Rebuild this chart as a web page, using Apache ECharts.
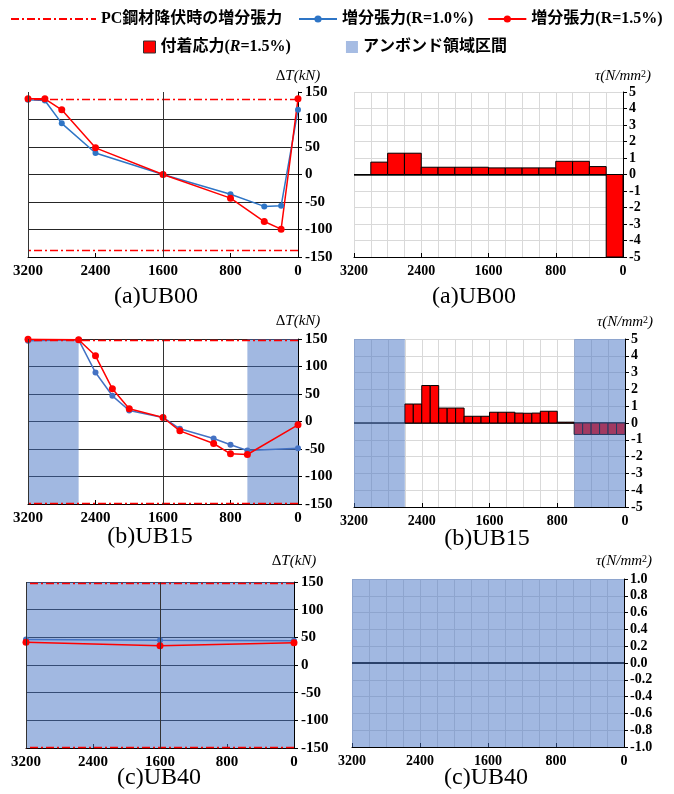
<!DOCTYPE html>
<html>
<head>
<meta charset="utf-8">
<script src="https://cdn.jsdelivr.net/npm/echarts@6/dist/echarts.min.js"></script>
<style>
html, body { margin: 0; padding: 0; background: #fff; }
#main { width: 674px; height: 794px; }
</style>
</head>
<body>
<div id="main"></div>
<script>
var SERIF = "'Liberation Serif','Noto Sans CJK JP',serif";

// gauge positions (mm) and incremental tension dT (kN)
var posUB00 = [3200, 3000, 2800, 2400, 1600, 800, 400, 200, 0];
var dT10UB00 = [136, 134.5, 93, 39, 0, -36, -58, -57, 117.6];
var dT15UB00 = [137.6, 137.6, 117.6, 48.5, 0, -43, -85.5, -99.4, 137.6];

var posUB15 = [3200, 2600, 2400, 2200, 2000, 1600, 1400, 1000, 800, 600, 0];
var dT10UB15 = [146.7, 148.5, 89, 46.7, 20, 7.3, -13.3, -31, -42.4, -52.7, -48.5];
var dT15UB15 = [149.7, 148.5, 119.4, 59.4, 23, 7.3, -17, -40, -58.8, -60, -6];

var posUB40 = [3200, 1600, 0];
var dT10UB40 = [46, 44.6, 44];
var dT15UB40 = [41, 35, 40.4];

// PC鋼材降伏時の増分張力 (kN)
var yieldUB00 = 137;
var yieldUB15 = 148;
var yieldUB40 = 148;

// bond stress: segment start (mm), segment length (mm), tau (N/mm2)
var bondFromUB00 = [3200, 3000, 2800, 2600, 2400, 2200, 2000, 1800, 1600, 1400, 1200, 1000, 800, 600, 400, 200];
var bondStepUB00 = 200;
var bondUB00 = [0, 0.75, 1.29, 1.29, 0.44, 0.44, 0.44, 0.44, 0.40, 0.40, 0.40, 0.40, 0.80, 0.80, 0.48, -5];

var bondFromUB15 = [2600, 2500, 2400, 2300, 2200, 2100, 2000, 1900, 1800, 1700, 1600, 1500, 1400,
                    1300, 1200, 1100, 1000, 900, 800, 700, 600, 500, 400, 300, 200, 100];
var bondStepUB15 = 100;
var bondUB15 = [1.13, 1.13, 2.23, 2.23, 0.89, 0.89, 0.89, 0.40, 0.40, 0.40, 0.64, 0.64, 0.64,
                0.59, 0.58, 0.59, 0.70, 0.70, 0.05, 0.05, -0.68, -0.68, -0.68, -0.68, -0.68, -0.68];

var bondFromUB40 = [3200, 3000, 2800, 2600, 2400, 2200, 2000, 1800, 1600, 1400, 1200, 1000, 800, 600, 400, 200];
var bondStepUB40 = 200;
var bondUB40 = [0, 0, 0, 0, 0, 0, 0, 0, 0, 0, 0, 0, 0, 0, 0, 0];

// アンボンド領域 (mm)
var unbondUB00 = [];
var unbondUB15 = [[3200, 2600], [600, 0]];
var unbondUB40 = [[3200, 0]];

var myChart = echarts.init(document.getElementById('main'));

var grids = [
    {left: 28, top: 92, width: 270, height: 165},
    {left: 354, top: 92, width: 269, height: 165},
    {left: 28, top: 339, width: 270, height: 165},
    {left: 354, top: 339, width: 271, height: 168},
    {left: 26, top: 582, width: 268, height: 166},
    {left: 352, top: 579, width: 272, height: 168}
];
var xAxes = [], yAxes = [], series = [];

function lab(size) {
    return {fontFamily: SERIF, fontWeight: 'bold', fontSize: size, color: '#000'};
}
function plain(v) { return String(v); }

function shade(g, ranges, z) {
    if (!ranges.length) return;
    series.push({
        type: 'line', name: 'アンボンド領域区間', xAxisIndex: g, yAxisIndex: g,
        data: [], symbol: 'none', z: z, silent: true,
        itemStyle: {color: '#a6bce3'},
        markArea: {
            silent: true, z: z,
            itemStyle: {color: 'rgba(68,114,196,0.5)'},
            data: ranges.map(function (r) { return [{xAxis: r[0]}, {xAxis: r[1]}]; })
        }
    });
}

function tensionPanel(g, pos, t10, t15, yieldV, unbond, blue, gap, maxLine) {
    xAxes.push({
        gridIndex: g, type: 'value', inverse: true, min: 0, max: 3200, interval: 800,
        axisLine: {show: true, onZero: false, lineStyle: {color: '#000', width: 1}},
        axisTick: {show: true, inside: true, length: 4, lineStyle: {color: '#000'}},
        axisLabel: Object.assign({margin: 7, formatter: plain}, lab(15)),
        splitLine: {show: false}
    });
    yAxes.push({
        gridIndex: g, type: 'value', position: 'right', min: -150, max: 150, interval: 50,
        name: '{d|Δ}{i|T(kN)}', nameLocation: 'end', nameGap: gap,
        nameTextStyle: {
            align: 'center',
            rich: {
                d: {fontFamily: SERIF, fontSize: 15, color: '#000'},
                i: {fontFamily: SERIF, fontSize: 15, fontStyle: 'italic', color: '#000'}
            }
        },
        axisLine: {show: true, onZero: false, lineStyle: {color: '#000'}},
        axisTick: {show: true, length: 4, lineStyle: {color: '#000'}},
        axisLabel: Object.assign({margin: 7, formatter: plain}, lab(15)),
        splitLine: {show: true, showMinLine: false, showMaxLine: maxLine, lineStyle: {color: '#262626', width: 1}}
    });
    shade(g, unbond, 1);
    series.push({
        type: 'line', name: '増分張力(R=1.0%)', xAxisIndex: g, yAxisIndex: g, z: 3,
        data: pos.map(function (p, i) { return [p, t10[i]]; }),
        symbol: 'circle', symbolSize: 6,
        lineStyle: {color: blue, width: 1.5}, itemStyle: {color: blue}
    });
    series.push({
        type: 'line', name: '増分張力(R=1.5%)', xAxisIndex: g, yAxisIndex: g, z: 3,
        data: pos.map(function (p, i) { return [p, t15[i]]; }),
        symbol: 'circle', symbolSize: 7,
        lineStyle: {color: '#ff0000', width: 1.5}, itemStyle: {color: '#ff0000'}
    });
    var dash = {color: '#ff0000', width: 1.3, type: [8, 3, 2, 3]};
    var frame = {color: '#333', width: 1, type: 'solid'};
    series.push({
        type: 'line', name: 'PC鋼材降伏時の増分張力', xAxisIndex: g, yAxisIndex: g, z: 4,
        data: [], symbol: 'none',
        lineStyle: dash, itemStyle: {color: '#ff0000'},
        markLine: {
            silent: true, symbol: ['none', 'none'], label: {show: false},
            data: [
                {yAxis: yieldV, lineStyle: dash},
                {yAxis: -yieldV, lineStyle: dash},
                {xAxis: 1600, lineStyle: frame},
                {xAxis: 3200, lineStyle: frame}
            ]
        }
    });
}

function renderBond(params, api) {
    var a = api.coord([api.value(0), api.value(2)]);
    var b = api.coord([api.value(1), 0]);
    return {
        type: 'rect',
        shape: {
            x: Math.min(a[0], b[0]), y: Math.min(a[1], b[1]),
            width: Math.abs(b[0] - a[0]), height: Math.abs(b[1] - a[1])
        },
        style: {fill: '#ff0000', stroke: '#000', lineWidth: 1}
    };
}

function bondPanel(g, from, step, tau, ymax, yint, unbond, gap, dec) {
    var grid = {color: '#d9d9d9', width: 1};
    xAxes.push({
        gridIndex: g, type: 'value', inverse: true, min: 0, max: 3200, interval: 800,
        axisLine: {show: true, onZero: false, lineStyle: {color: '#000'}},
        axisTick: {show: true, inside: true, length: 4, lineStyle: {color: '#000'}},
        minorTick: {show: false, splitNumber: 4},
        minorSplitLine: {show: true, lineStyle: grid},
        splitLine: {show: true, lineStyle: grid},
        axisLabel: Object.assign({margin: 7, formatter: plain}, lab(14))
    });
    yAxes.push({
        gridIndex: g, type: 'value', position: 'right', min: -ymax, max: ymax, interval: yint,
        name: '{t|τ(N/mm}{s|2}{t|)}', nameLocation: 'end', nameGap: gap,
        nameTextStyle: {
            align: 'center',
            rich: {
                t: {fontFamily: SERIF, fontSize: 15, fontStyle: 'italic', color: '#000'},
                s: {fontFamily: SERIF, fontSize: 10, color: '#000', verticalAlign: 'top'}
            }
        },
        axisLine: {show: true, onZero: false, lineStyle: {color: '#000'}},
        axisTick: {show: true, length: 4, lineStyle: {color: '#000'}},
        axisLabel: Object.assign({
            margin: 6,
            formatter: function (v) { return dec ? v.toFixed(dec) : String(v); }
        }, lab(14)),
        splitLine: {show: true, lineStyle: grid}
    });
    series.push({
        type: 'custom', name: '付着応力(R=1.5%)', xAxisIndex: g, yAxisIndex: g, z: 2,
        renderItem: renderBond, encode: {x: [0, 1], y: 2},
        itemStyle: {color: '#ff0000'},
        data: from.map(function (f, i) { return [f, f - step, tau[i]]; }),
        markLine: {
            silent: true, z: 2, symbol: ['none', 'none'], label: {show: false},
            lineStyle: {color: '#111', width: 1.5, type: 'solid'},
            data: [{yAxis: 0}]
        }
    });
    shade(g, unbond, 3);
}

tensionPanel(0, posUB00, dT10UB00, dT15UB00, yieldUB00, unbondUB00, '#2e75c6', 8, false);
bondPanel(1, bondFromUB00, bondStepUB00, bondUB00, 5, 1, unbondUB00, 8, 0);
tensionPanel(2, posUB15, dT10UB15, dT15UB15, yieldUB15, unbondUB15, '#4472c4', 10, true);
bondPanel(3, bondFromUB15, bondStepUB15, bondUB15, 5, 1, unbondUB15, 9, 0);
tensionPanel(4, posUB40, dT10UB40, dT15UB40, yieldUB40, unbondUB40, '#4472c4', 13, true);
bondPanel(5, bondFromUB40, bondStepUB40, bondUB40, 1, 0.2, unbondUB40, 10, 1);

var titleStyle = {fontFamily: SERIF, fontWeight: 'normal', fontSize: 24, color: '#000'};
function ttl(text, x, y) {
    return {text: text, left: x, top: y, textAlign: 'center', padding: 0, textStyle: titleStyle};
}

var legendText = {fontFamily: SERIF, fontWeight: 'bold', fontSize: 16, color: '#000'};

var option = {
    animation: false,
    backgroundColor: '#fff',
    title: [
        ttl('(a)UB00', 156, 285), ttl('(a)UB00', 474, 285),
        ttl('(b)UB15', 150, 525), ttl('(b)UB15', 487, 527),
        ttl('(c)UB40', 159, 766), ttl('(c)UB40', 486, 766)
    ],
    legend: [
        {
            left: 10, top: 11, padding: 0, itemWidth: 85, itemHeight: 9, selectedMode: false,
            data: [{name: 'PC鋼材降伏時の増分張力', itemStyle: {opacity: 0}}],
            textStyle: legendText
        },
        {
            left: 298, top: 11, padding: 0, width: 376, itemWidth: 38, itemHeight: 9, itemGap: 14, selectedMode: false,
            data: ['増分張力(R=1.0%)', '増分張力(R=1.5%)'],
            textStyle: legendText
        },
        {
            left: 143, top: 39, padding: 0, itemWidth: 12, itemHeight: 12, itemGap: 55, selectedMode: false,
            data: [
                {name: '付着応力(R=1.5%)', icon: 'rect', itemStyle: {color: '#ff0000', borderColor: '#333', borderWidth: 1}},
                {name: 'アンボンド領域区間', icon: 'rect', itemStyle: {color: '#a6bce3', borderWidth: 0}}
            ],
            formatter: function (name) {
                if (name === '付着応力(R=1.5%)') return '{b|付着応力(}{i|R}{b|=1.5%)}';
                return '{b|' + name + '}';
            },
            textStyle: {
                rich: {
                    b: legendText,
                    i: Object.assign({}, legendText, {fontStyle: 'italic'})
                }
            }
        }
    ],
    grid: grids,
    xAxis: xAxes,
    yAxis: yAxes,
    series: series
};

myChart.setOption(option);
</script>
</body>
</html>
